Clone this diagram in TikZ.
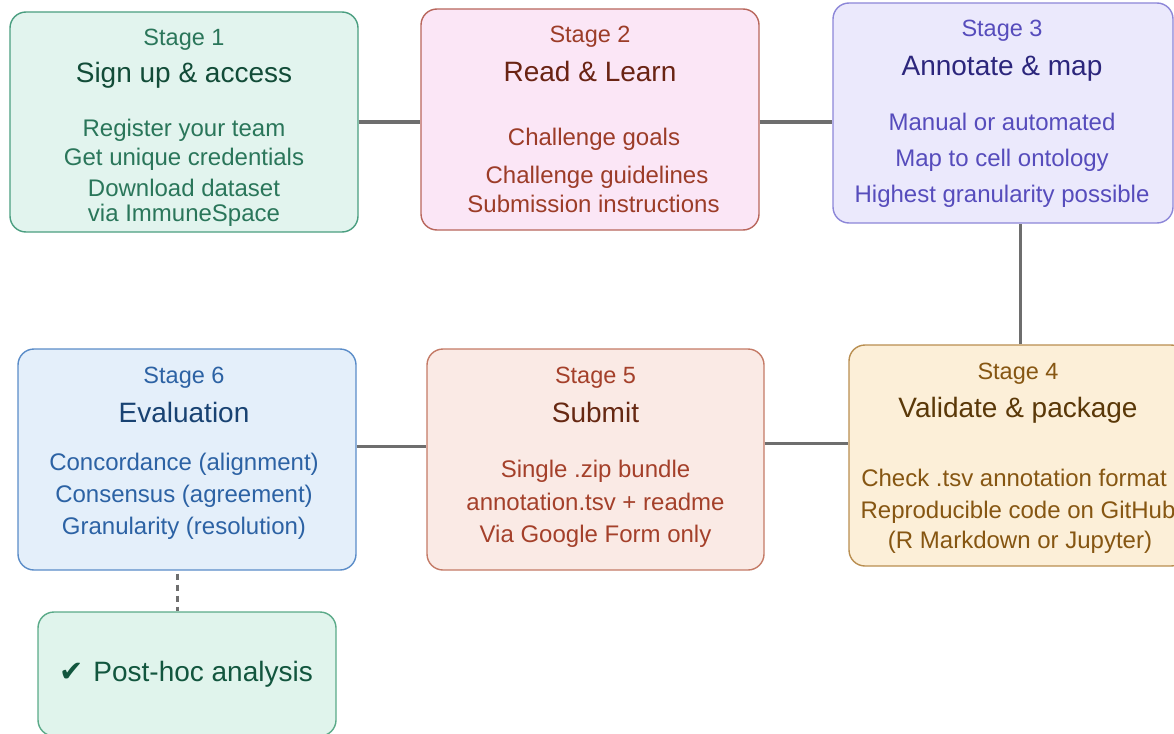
\documentclass[tikz,border=0pt]{standalone}
\usepackage{fontspec}
\setmainfont{Liberation Sans}
\newfontfamily\symfont{DejaVu Sans}

% palette per stage: fill, border, text, title
\definecolor{gFill}{HTML}{E2F4EE}\definecolor{gLine}{HTML}{4A9E80}\definecolor{gText}{HTML}{2A765A}\definecolor{gHead}{HTML}{124C38}
\definecolor{pFill}{HTML}{FBE6F6}\definecolor{pLine}{HTML}{B8665C}\definecolor{pText}{HTML}{9C3C28}\definecolor{pHead}{HTML}{6A2414}
\definecolor{vFill}{HTML}{EBE9FC}\definecolor{vLine}{HTML}{8C86D8}\definecolor{vText}{HTML}{564CBC}\definecolor{vHead}{HTML}{2C267C}
\definecolor{oFill}{HTML}{FCEFD8}\definecolor{oLine}{HTML}{B98E50}\definecolor{oText}{HTML}{865612}\definecolor{oHead}{HTML}{5A3808}
\definecolor{rFill}{HTML}{FAEAE5}\definecolor{rLine}{HTML}{C47A66}\definecolor{rText}{HTML}{A4402A}\definecolor{rHead}{HTML}{662812}
\definecolor{bFill}{HTML}{E4EFFA}\definecolor{bLine}{HTML}{5A8CC8}\definecolor{bText}{HTML}{2C62A4}\definecolor{bHead}{HTML}{184272}
\definecolor{hFill}{HTML}{E0F4EC}\definecolor{hLine}{HTML}{5AAA88}\definecolor{hText}{HTML}{12563E}
\definecolor{linkGray}{HTML}{6E6E6E}

\begin{document}
\begin{tikzpicture}[x=1pt,y=-1pt,
  stagebox/.style={rounded corners=16pt, line width=1.4pt, inner sep=0pt, anchor=center},
  lbl/.style={font=\fontsize{23.5}{28}\selectfont, anchor=base, inner sep=0pt},
  ttl/.style={font=\fontsize{28}{32}\selectfont, anchor=base, inner sep=0pt},
  txt/.style={font=\fontsize{24}{28}\selectfont, anchor=base, inner sep=0pt},
  link/.style={draw=linkGray, line width=3pt},
  dlink/.style={draw=linkGray, line width=3pt, dash pattern=on 6pt off 5pt}]

\useasboundingbox (0,0) rectangle (1174,733);
\clip (0,0) rectangle (1174,733);

% stage boxes
\node[stagebox, fill=gFill, draw=gLine, minimum width=348pt, minimum height=220pt] (s1) at (184,122) {};
\node[stagebox, fill=pFill, draw=pLine, minimum width=338pt, minimum height=221pt] (s2) at (590,119.5) {};
\node[stagebox, fill=vFill, draw=vLine, minimum width=340pt, minimum height=220pt] (s3) at (1003,113) {};
\node[stagebox, fill=oFill, draw=oLine, minimum width=338pt, minimum height=221pt] (s4) at (1018,455.5) {};
\node[stagebox, fill=rFill, draw=rLine, minimum width=337pt, minimum height=221pt] (s5) at (595.5,459.5) {};
\node[stagebox, fill=bFill, draw=bLine, minimum width=338pt, minimum height=221pt] (s6) at (187,459.5) {};
\node[stagebox, fill=hFill, draw=hLine, minimum width=298pt, minimum height=124pt] (post) at (187,674) {};

% connectors
\draw[link] (s1.east) -- (s1.east -| s2.west);
\draw[link] ([yshift=-2.5pt]s2.east) -- ([yshift=-2.5pt]s2.east -| s3.west);
\draw[link] ([xshift=2pt]s4.north) -- ([xshift=2pt]s4.north |- s3.south);
\draw[link] ([yshift=16pt]s5.east) -- ([yshift=16pt]s5.east -| s4.west);
\draw[link] ([yshift=13.5pt]s6.east) -- ([yshift=13.5pt]s6.east -| s5.west);
\draw[dlink] ([xshift=-10pt,yshift=-3pt]s6.south) -- ([xshift=-10pt]s6.south |- post.north);

% stage 1
\node[lbl, text=gText] (s1l) at (184,46) {Stage 1};
\node[ttl, text=gHead] (s1t) at (184,83) {Sign up \& access};
\node[txt, text=gText] (s1a) at (184,136) {Register your team};
\node[txt, text=gText] (s1b) at (184,165) {Get unique credentials};
\node[txt, text=gText] (s1c) at (184,196) {Download dataset};
\node[txt, text=gText] (s1d) at (184,221) {via ImmuneSpace};

% stage 2
\node[lbl, text=pText] (s2l) at (590,43) {Stage 2};
\node[ttl, text=pHead] (s2t) at (590,82) {Read \& Learn};
\node[txt, text=pText] (s2a) at (594,146) {Challenge goals};
\node[txt, text=pText] (s2b) at (597,183) {Challenge guidelines};
\node[txt, text=pText] (s2c) at (593.5,212) {Submission instructions};

% stage 3
\node[lbl, text=vText] (s3l) at (1002,37) {Stage 3};
\node[ttl, text=vHead] (s3t) at (1002,76) {Annotate \& map};
\node[txt, text=vText] (s3a) at (1002,130) {Manual or automated};
\node[txt, text=vText] (s3b) at (1002,166) {Map to cell ontology};
\node[txt, text=vText] (s3c) at (1002,202) {Highest granularity possible};

% stage 4
\node[lbl, text=oText] (s4l) at (1018,379) {Stage 4};
\node[ttl, text=oHead] (s4t) at (1018,417) {Validate \& package};
\node[txt, text=oText] (s4a) at (1014,486) {Check .tsv annotation format};
\node[txt, text=oText] (s4b) at (1018,518) {Reproducible code on GitHub};
\node[txt, text=oText] (s4c) at (1020,548) {(R Markdown or Jupyter)};

% stage 5
\node[lbl, text=rText] (s5l) at (595.5,383) {Stage 5};
\node[ttl, text=rHead] (s5t) at (595.5,422) {Submit};
\node[txt, text=rText] (s5a) at (595.5,477) {Single .zip bundle};
\node[txt, text=rText] (s5b) at (595.5,510) {annotation.tsv + readme};
\node[txt, text=rText] (s5c) at (595.5,542) {Via Google Form only};

% stage 6
\node[lbl, text=bText] (s6l) at (184,383) {Stage 6};
\node[ttl, text=bHead] (s6t) at (184,422) {Evaluation};
\node[txt, text=bText] (s6a) at (184,470) {Concordance (alignment)};
\node[txt, text=bText] (s6b) at (184,502) {Consensus (agreement)};
\node[txt, text=bText] (s6c) at (184,534) {Granularity (resolution)};

% follow-up
\node[font=\fontsize{28}{32}\selectfont, anchor=base, inner sep=0pt, text=hText] (postt) at (186,681) {{\symfont\fontsize{29}{34}\selectfont ✔}\hspace{10pt}Post-hoc analysis};
\end{tikzpicture}
\end{document}
